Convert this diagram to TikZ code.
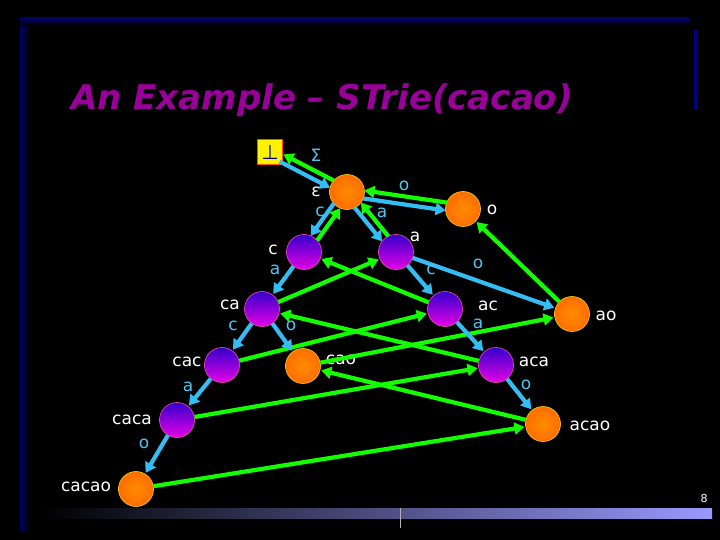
\documentclass[tikz,border=0pt]{standalone}
\usepackage{fontspec}
\setmainfont{DejaVu Sans}
\usetikzlibrary{arrows.meta,calc}
\begin{document}
\begin{tikzpicture}[x=1pt,y=-1pt,
  st/.style={circle,minimum size=35pt,inner sep=0pt,draw=yellow!70!orange,line width=0.6pt,shade,inner color=orange!90!yellow,outer color=orange!85!red},
  pt/.style={circle,minimum size=35pt,inner sep=0pt,draw=magenta!70,line width=0.6pt,shade,top color=blue!60!violet,bottom color=magenta!80!violet},
  tr/.style={cyan!80!white,line width=4.2pt,-{Triangle[length=10pt,width=12pt]},shorten >=1pt},
  sl/.style={green!90!lime,line width=4.2pt,-{Triangle[length=10pt,width=12pt]},shorten >=1pt},
  pr/.style={shorten <=17pt,shorten >=17pt},
  lab/.style={text=white,font=\fontsize{17}{17}\selectfont},
  el/.style={text=cyan!70!white,font=\fontsize{17}{17}\selectfont}]
\fill[black] (0,0) rectangle (720,540);
\useasboundingbox (0,0) rectangle (720,540);
% frame
\shade[left color=blue!40!black,right color=black] (20,20) rectangle (30,530);
\shade[top color=blue!40!black,bottom color=black] (20,18) rectangle (690,26);
\shade[left color=black,right color=blue!40!white] (40,508) rectangle (712,518);
\fill[blue!50!black] (694,30) rectangle (698,110);
\draw[white!70!black,line width=1pt] (400,508) -- (400,528);
% title
\node[text=violet!80!magenta,font=\fontsize{34}{34}\selectfont\bfseries\itshape] (title) at (322,100) {An Example – STrie(cacao)};
% nodes
\node[draw=orange!60!red,fill=yellow,minimum size=25pt,inner sep=0pt,line width=1pt,text=blue!60!black,font=\fontsize{20}{20}\selectfont] (bot) at (270,152) {⊥};
\node[st] (e) at (347,192) {};
\node[st] (o) at (463,209) {};
\node[pt] (c) at (304,252) {};
\node[pt] (a) at (396,252) {};
\node[pt] (ca) at (262,309) {};
\node[pt] (ac) at (445,309) {};
\node[st] (ao) at (572,314) {};
\node[pt] (cac) at (222,365) {};
\node[st] (cao) at (303,366) {};
\node[pt] (aca) at (496,365) {};
\node[pt] (caca) at (177,420) {};
\node[st] (acao) at (543,424) {};
\node[st] (cacao) at (136,489) {};
% node labels
\node[lab] at (316,192) {ε};
\node[lab] at (492,210) {o};
\node[lab] at (273,250) {c};
\node[lab] at (415,237) {a};
\node[lab] at (230,305) {ca};
\node[lab] at (488,306) {ac};
\node[lab] at (606,316) {ao};
\node[lab] at (187,362) {cac};
\node[lab] at (341,360) {cao};
\node[lab] at (534,362) {aca};
\node[lab] at (132,420) {caca};
\node[lab] at (590,426) {acao};
\node[lab] at (86,487) {cacao};
% paired edges (trie / suffix link side by side)
\draw[tr,pr,shorten <=13pt] ($(bot)!4pt!-90:(e)$) -- ($(e)!4pt!90:(bot)$);
\draw[sl,pr,shorten >=13pt] ($(e)!4pt!-90:(bot)$) -- ($(bot)!4pt!90:(e)$);
\draw[tr,pr] ($(e)!4pt!-90:(o)$) -- ($(o)!4pt!90:(e)$);
\draw[sl,pr] ($(o)!4pt!-90:(e)$) -- ($(e)!4pt!90:(o)$);
\draw[tr,pr] ($(e)!4pt!-90:(c)$) -- ($(c)!4pt!90:(e)$);
\draw[sl,pr] ($(c)!4pt!-90:(e)$) -- ($(e)!4pt!90:(c)$);
\draw[tr,pr] ($(e)!4pt!-90:(a)$) -- ($(a)!4pt!90:(e)$);
\draw[sl,pr] ($(a)!4pt!-90:(e)$) -- ($(e)!4pt!90:(a)$);
% suffix links
\draw[sl] (ca) -- (a);
\draw[sl] (ac) -- (c);
\draw[sl] (ao) -- (o);
\draw[sl] (cac) -- (ac);
\draw[sl] (cao) -- (ao);
\draw[sl] (aca) -- (ca);
\draw[sl] (caca) -- (aca);
\draw[sl] (acao) -- (cao);
\draw[sl] (cacao) -- (acao);
% trie edges
\draw[tr] (c) -- (ca);
\draw[tr] (a) -- (ac);
\draw[tr] (a) -- (ao);
\draw[tr] (ca) -- (cac);
\draw[tr] (ca) -- (cao);
\draw[tr] (ac) -- (aca);
\draw[tr] (cac) -- (caca);
\draw[tr] (aca) -- (acao);
\draw[tr] (caca) -- (cacao);
% edge labels
\node[el] at (316,155) {Σ};
\node[el] at (404,186) {o};
\node[el] at (320,212) {c};
\node[el] at (382,213) {a};
\node[el] at (275,270) {a};
\node[el] at (431,270) {c};
\node[el] at (478,264) {o};
\node[el] at (233,326) {c};
\node[el] at (291,326) {o};
\node[el] at (478,324) {a};
\node[el] at (188,387) {a};
\node[el] at (526,385) {o};
\node[el] at (144,444) {o};
\node[text=white,font=\fontsize{11}{11}\selectfont] at (704,498) {8};
\end{tikzpicture}
\end{document}
